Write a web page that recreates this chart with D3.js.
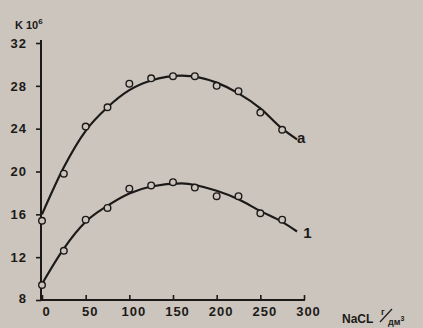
<!DOCTYPE html>
<html>
<head>
<meta charset="utf-8">
<script src="https://cdn.jsdelivr.net/npm/d3@7"></script>
<style>
  html, body { margin: 0; padding: 0; background: #cbc5bd; }
  svg { display: block; }
  text { font-family: "Liberation Sans", "DejaVu Sans", sans-serif; font-weight: bold; fill: #1c1a18; }
</style>
</head>
<body>
<div id="chart"></div>
<script>
// measured concentrations (g/dm3)
const conc = [0, 25, 50, 75, 100, 125, 150, 175, 200, 225, 250, 275];
// measured values, curve "a" and curve "1"
const seriesA = [15.4, 19.8, 24.2, 26.0, 28.2, 28.7, 28.9, 28.9, 28.0, 27.5, 25.5, 23.9];
const series1 = [9.4, 12.6, 15.5, 16.6, 18.4, 18.7, 19.0, 18.5, 17.7, 17.7, 16.1, 15.5];
// fitted curves as drawn on the figure
const fitX = [0, 25, 50, 75, 100, 125, 160, 200, 225, 250, 275, 292];
const fitA = [16.0, 20.4, 23.8, 26.0, 27.6, 28.5, 28.95, 28.3, 27.3, 25.9, 24.0, 23.0];
const fit1 = [9.5, 12.8, 15.3, 16.8, 17.95, 18.6, 18.9, 18.2, 17.4, 16.3, 15.3, 14.4];
const xTicks = [0, 50, 100, 150, 200, 250, 300];
const yTicks = [8, 12, 16, 20, 24, 28, 32];

const W = 423, H = 328;
const ink = '#1c1a18', bg = '#cbc5bd';

const svg = d3.select('#chart').append('svg')
  .attr('width', W).attr('height', H);

const x = d3.scaleLinear().domain([0, 300]).range([42, 304]);
const y = d3.scaleLinear().domain([8, 32]).range([300, 43]);

// axes
const xAxis = d3.axisBottom(x).tickValues(xTicks).tickSizeInner(-5).tickSizeOuter(0).tickPadding(13);
const yAxis = d3.axisLeft(y).tickValues(yTicks).tickSizeInner(5).tickSizeOuter(0).tickPadding(9);

const gx = svg.append('g').attr('transform', 'translate(0,300)').call(xAxis);
gx.select('.domain').attr('stroke', ink).attr('stroke-width', 2).attr('d', 'M41,0H305');
gx.selectAll('.tick line').attr('stroke', ink).attr('stroke-width', 1.6);
gx.selectAll('.tick text')
  .attr('fill', ink).attr('font-size', 13).attr('letter-spacing', 1)
  .attr('dx', 4).attr('dy', 3);

const gy = svg.append('g').attr('transform', 'translate(41,0)').call(yAxis);
gy.select('.domain').attr('stroke', ink).attr('stroke-width', 2).attr('d', 'M0,300V40');
gy.selectAll('.tick line').attr('stroke', ink).attr('stroke-width', 1.6);
gy.selectAll('.tick text')
  .attr('fill', ink).attr('font-size', 13).attr('letter-spacing', 1)
  .filter(d => d === 8).attr('dy', '0.2em');

// fitted lines
const line = d3.line()
  .x((d, i) => x(fitX[i]))
  .y(d => y(d))
  .curve(d3.curveMonotoneX);

[fitA, fit1].forEach(s => {
  svg.append('path')
    .attr('d', line(s))
    .attr('fill', 'none')
    .attr('stroke', ink)
    .attr('stroke-width', 2.2);
});

// measured points
[seriesA, series1].forEach(s => {
  svg.append('g')
    .selectAll('circle')
    .data(s)
    .join('circle')
    .attr('cx', (d, i) => x(conc[i]))
    .attr('cy', d => y(d))
    .attr('r', 3.3)
    .attr('fill', bg)
    .attr('stroke', ink)
    .attr('stroke-width', 1.4);
});

// curve labels
svg.append('text').attr('x', x(292)).attr('y', y(22.66)).attr('font-size', 15).text('a');
svg.append('text').attr('x', x(299)).attr('y', y(13.8)).attr('font-size', 15).text('1');

// axis titles
const yt = svg.append('text').attr('x', 15).attr('y', 29).attr('font-size', 11);
yt.append('tspan').text('K 10');
yt.append('tspan').attr('dy', -5).attr('font-size', 8).text('6');

svg.append('text').attr('x', 342).attr('y', 323).attr('font-size', 12).text('NaCL');
svg.append('text').attr('x', 381).attr('y', 315).attr('font-size', 9).text('г');
svg.append('line').attr('x1', 380).attr('x2', 392).attr('y1', 322).attr('y2', 309)
  .attr('stroke', ink).attr('stroke-width', 1.2);
const den = svg.append('text').attr('x', 388).attr('y', 325).attr('font-size', 9);
den.append('tspan').text('дм');
den.append('tspan').attr('dy', -4).attr('font-size', 7).text('3');
</script>
</body>
</html>
